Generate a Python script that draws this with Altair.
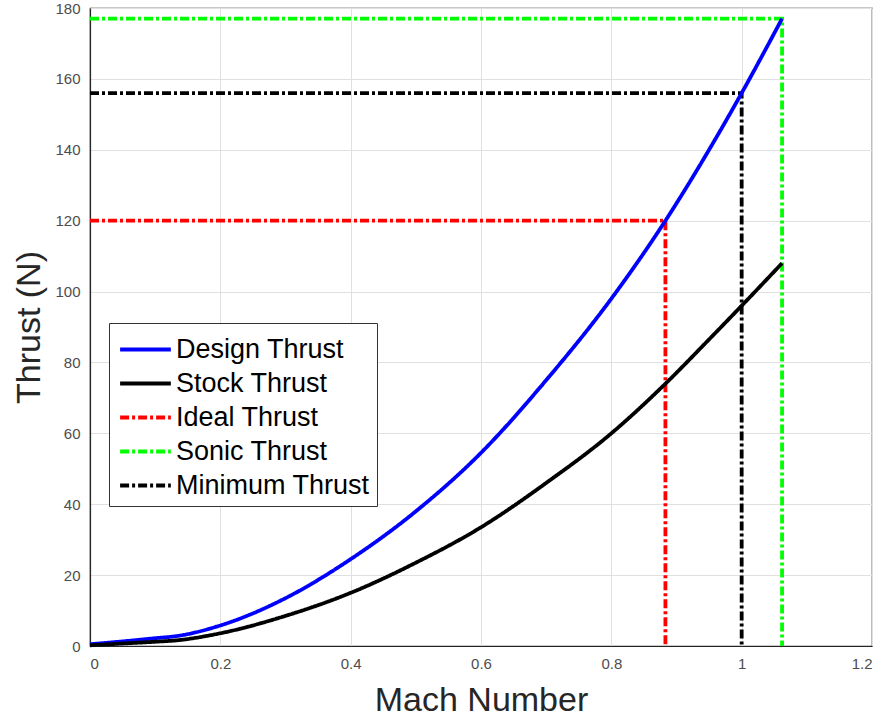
import altair as alt
import pandas as pd

# Curve samples
mach = [0.0, 0.05, 0.1, 0.133, 0.2, 0.3, 0.4, 0.5, 0.6, 0.7, 0.8, 0.883, 0.95, 1.0, 1.062]
design = [0.5, 1.3, 2.2, 2.8, 5.8, 13.5, 24.5, 38.0, 54.5, 75.0, 98.0, 120.0, 140.0, 156.0, 177.0]
stock = [0.2, 0.7, 1.2, 1.6, 3.6, 8.5, 15.0, 23.5, 33.5, 46.0, 60.0, 74.0, 86.5, 96.0, 108.0]

# Reference markers (Mach, Thrust)
ideal_pt = (0.883, 120.0)
sonic_pt = (1.062, 177.0)
minimum_pt = (1.0, 156.0)

series = ["Design Thrust", "Stock Thrust", "Ideal Thrust", "Sonic Thrust", "Minimum Thrust"]
colors = ["#0000ff", "#000000", "#ff0000", "#00ff00", "#000000"]
dashes = [[1, 0], [1, 0], [9, 3, 3, 3], [9, 3, 3, 3], [9, 3, 3, 3]]
widths = [3.8, 3.8, 2.4, 2.4, 2.4]

curve_rows = []
for i, (m, t) in enumerate(zip(mach, design)):
    curve_rows.append({"series": "Design Thrust", "M": m, "T": t, "o": i})
for i, (m, t) in enumerate(zip(mach, stock)):
    curve_rows.append({"series": "Stock Thrust", "M": m, "T": t, "o": i})
curves = pd.DataFrame(curve_rows)

guide_rows = []
for name, (m, t) in [("Ideal Thrust", ideal_pt), ("Sonic Thrust", sonic_pt), ("Minimum Thrust", minimum_pt)]:
    guide_rows.append({"series": name, "M": 0.0, "T": t, "o": 0})
    guide_rows.append({"series": name, "M": m, "T": t, "o": 1})
    guide_rows.append({"series": name, "M": m, "T": 0.0, "o": 2})
guides = pd.DataFrame(guide_rows)

x_ticks = [0, 0.2, 0.4, 0.6, 0.8, 1.0, 1.2]
y_ticks = list(range(0, 181, 20))

font = "Liberation Sans"
legend = alt.Legend(
    title=None, orient="none", legendX=19, legendY=315,
    symbolType="M-0.88,0H2.02", symbolSize=1225, labelFontSize=27, labelFont=font,
    labelColor="#000000", rowPadding=1, padding=7, strokeColor="#333333",
    fillColor="#ffffff", labelLimit=400, labelOffset=21,
)

x_enc = alt.X("M:Q", scale=alt.Scale(domain=[0, 1.2], nice=False),
              axis=alt.Axis(values=x_ticks, title="Mach Number", format="~g"))
y_enc = alt.Y("T:Q", scale=alt.Scale(domain=[0, 180], nice=False),
              axis=alt.Axis(values=y_ticks, title="Thrust (N)"))
common = dict(
    x=x_enc, y=y_enc,
    color=alt.Color("series:N", scale=alt.Scale(domain=series, range=colors), legend=legend),
    strokeDash=alt.StrokeDash("series:N", scale=alt.Scale(domain=series, range=dashes), legend=legend),
    strokeWidth=alt.StrokeWidth("series:N", scale=alt.Scale(domain=series, range=widths), legend=legend),
    order="o:Q",
)

guide_layer = alt.Chart(guides).mark_line().encode(**common)
curve_layer = alt.Chart(curves).mark_line(interpolate="monotone").encode(**common)

chart = alt.layer(guide_layer, curve_layer).properties(
    width=782, height=638,
    autosize=alt.AutoSizeParams(type="none"),
    padding={"left": 90, "top": 8, "right": 21, "bottom": 73},
).configure_view(
    stroke="#262626", strokeWidth=1.2
).configure_axis(
    grid=True, gridColor="#e0e0e0", gridWidth=1,
    domainColor="#262626", domainWidth=1.2,
    tickSize=0, labelPadding=10,
    labelFont=font, labelFontSize=15, labelColor="#4d4d4d",
    titleFont=font, titleFontSize=34, titleFontWeight="normal", titleColor="#262626",
).configure_axisX(titlePadding=12).configure_axisY(titlePadding=8)

chart.save("out.html", embed_options={"renderer": "svg", "actions": False})
